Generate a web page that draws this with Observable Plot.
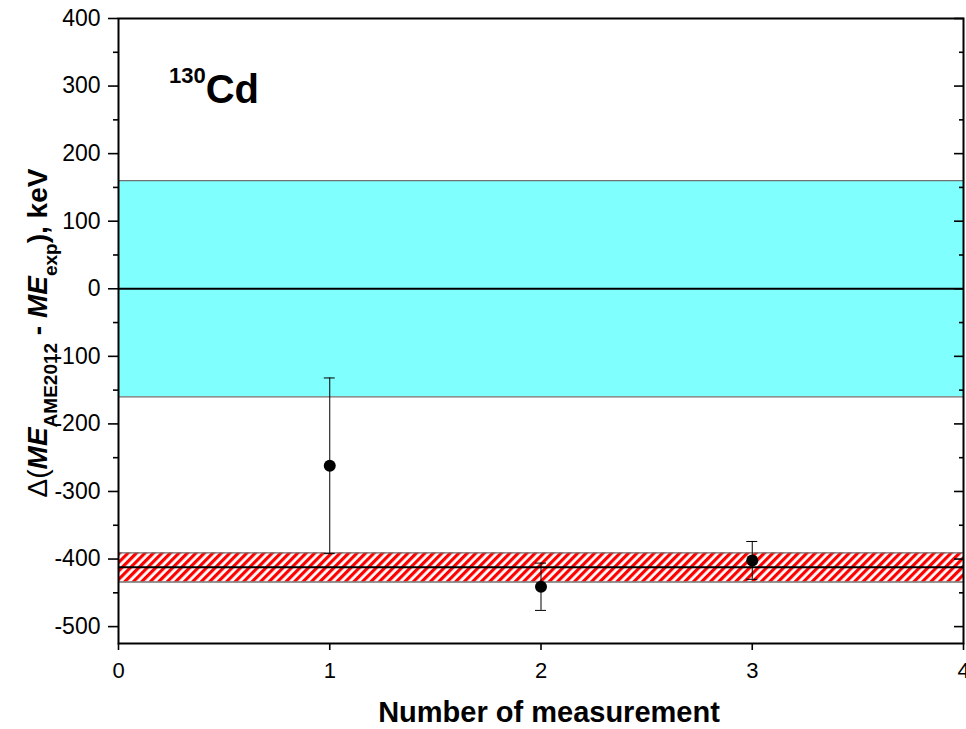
<!DOCTYPE html>
<html><head><meta charset="utf-8">
<script src="https://cdn.jsdelivr.net/npm/d3@7"></script>
<script src="https://cdn.jsdelivr.net/npm/@observablehq/plot@0.6"></script>
<style>body{margin:0;background:#fff;} svg{display:block}</style>
</head><body><div id="chart"></div>
<script>
// ---- data ----
const measurements = [1, 2, 3];
const deltaME = [-262, -441, -402];
const errors = [130, 35, 28];
const ameBand = [-160, 160];      // AME2012 uncertainty band
const ameValue = [0];
const meanBand = [-434, -391];    // weighted mean uncertainty band
const meanValue = [-412];
const xTicks = [0, 1, 2, 3, 4];
const yMajorTicks = [-500, -400, -300, -200, -100, 0, 100, 200, 300, 400];
const yMinorTicks = [-450, -350, -250, -150, -50, 50, 150, 250, 350];

const points = measurements.map((x, i) => ({
  x, y: deltaME[i], lo: deltaME[i] - errors[i], hi: deltaME[i] + errors[i]
}));
const bands = [
  {y1: ameBand[0], y2: ameBand[1], kind: "ame"},
  {y1: meanBand[0], y2: meanBand[1], kind: "mean"}
];
const fmt = d => `${d}`;

const chart = Plot.plot({
  width: 966, height: 729,
  marginLeft: 118, marginRight: 3, marginTop: 18, marginBottom: 86,
  style: {fontFamily: "'Liberation Sans', Arial, sans-serif", background: "white", overflow: "visible", color: "black"},
  x: {domain: [0, 4]},
  y: {domain: [-525, 400]},
  marks: [
    Plot.rect([bands[0]], {x1: 0, x2: 4, y1: "y1", y2: "y2", fill: "#80ffff"}),
    Plot.rect([bands[1]], {x1: 0, x2: 4, y1: "y1", y2: "y2", fill: "url(#hatch)"}),
    Plot.ruleY([...ameBand, ...meanBand], {stroke: "#707070", strokeWidth: 1.3}),
    Plot.ruleY(ameValue, {stroke: "black", strokeWidth: 2}),
    Plot.ruleY(meanValue, {stroke: "black", strokeWidth: 2}),
    Plot.ruleX(points, {x: "x", y1: "lo", y2: "hi", stroke: "black", strokeWidth: 1}),
    Plot.ruleY(points, {y: "hi", x1: "x", x2: "x", insetLeft: -5.5, insetRight: -5.5, stroke: "black", strokeWidth: 1}),
    Plot.ruleY(points, {y: "lo", x1: "x", x2: "x", insetLeft: -5.5, insetRight: -5.5, stroke: "black", strokeWidth: 1}),
    Plot.dot(points, {x: "x", y: "y", r: 6, fill: "black", stroke: null}),
    Plot.axisY({ticks: yMajorTicks, tickSize: 10, tickPadding: 8, fontSize: 23, tickFormat: fmt, strokeWidth: 1.6, label: null}),
    Plot.axisY({ticks: yMinorTicks, tickSize: 5, tickFormat: () => "", strokeWidth: 1.6, label: null}),
    Plot.axisY({anchor: "right", ticks: yMajorTicks, tickSize: 10, dx: -10, tickFormat: () => "", strokeWidth: 1.6, label: null}),
    Plot.axisY({anchor: "right", ticks: yMinorTicks, tickSize: 5, dx: -5, tickFormat: () => "", strokeWidth: 1.6, label: null}),
    Plot.axisX({ticks: xTicks, tickSize: 7, tickPadding: 12, fontSize: 22, tickFormat: fmt, strokeWidth: 1.6, label: null}),
    Plot.frame({stroke: "black", strokeWidth: 2})
  ]
});

const svg = d3.select(chart);
svg.insert("defs", ":first-child").html(
  '<pattern id="hatch" patternUnits="userSpaceOnUse" width="6" height="6" patternTransform="rotate(45)">' +
  '<rect width="6" height="6" fill="white"/><rect width="3.2" height="6" fill="red"/></pattern>');

// nuclide label
const nt = svg.append("text").attr("x", 169).attr("y", 103)
  .attr("text-anchor", "start")
  .attr("font-family", "'Liberation Sans', Arial, sans-serif").attr("font-weight", "bold").attr("fill", "black");
nt.append("tspan").attr("font-size", 22).attr("dy", -20).text("130");
nt.append("tspan").attr("font-size", 40).attr("dy", 20).text("Cd");

// y-axis label
const yl = svg.append("text")
  .attr("transform", "translate(47,333) rotate(-90)")
  .attr("text-anchor", "middle")
  .attr("font-family", "'Liberation Sans', Arial, sans-serif").attr("font-weight", "bold")
  .attr("font-size", 28).attr("fill", "black");
yl.append("tspan").attr("font-weight", "normal").text("Δ(");
yl.append("tspan").attr("font-style", "italic").text("ME");
yl.append("tspan").attr("font-size", 19).attr("dy", 10).text("AME2012");
yl.append("tspan").attr("dy", -10).text(" - ");
yl.append("tspan").attr("font-style", "italic").text("ME");
yl.append("tspan").attr("font-size", 19).attr("dy", 10).text("exp");
yl.append("tspan").attr("dy", -10).text("), keV");

// x-axis label
svg.append("text").attr("x", 549).attr("y", 722)
  .attr("text-anchor", "middle")
  .attr("font-family", "'Liberation Sans', Arial, sans-serif").attr("font-weight", "bold")
  .attr("font-size", 29).attr("fill", "black")
  .text("Number of measurement");

document.getElementById("chart").appendChild(chart);
</script>
</body></html>
